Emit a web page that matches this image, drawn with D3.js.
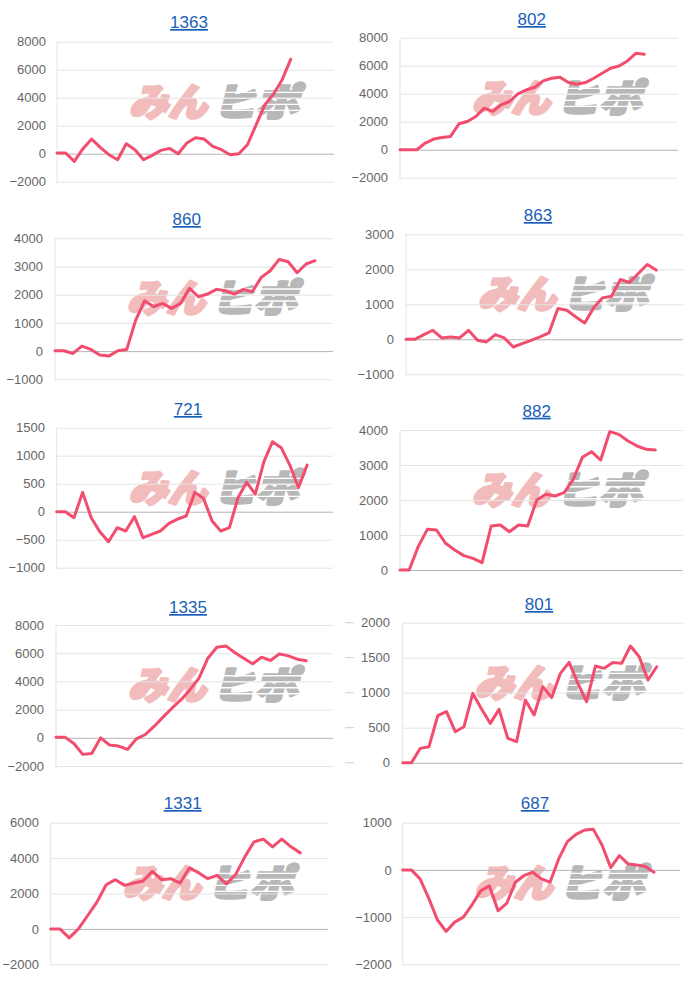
<!DOCTYPE html>
<html><head><meta charset="utf-8">
<script src="https://cdn.jsdelivr.net/npm/d3@7"></script>
<style>
html,body{margin:0;padding:0;background:#fff;}
svg{display:block;}
</style></head>
<body>
<svg id="c" width="700" height="982"></svg>
<script>
// ---- data ----
const titles = ["1363","802","860","863","721","882","1335","801","1331","687"];
const slotCounts = [33,34,32,32,33,32,32,33,31,33];

const s1363 = [50,50,-546,356,1045,451,-71,-427,712,285,-427,-119,237,380,0,760,1140,1045,522,285,-71,0,641,2065,3490,4250,5270,6742];
const s802  = [0,0,0,475,760,878,950,1852,2018,2374,2968,2730,3205,3442,3988,4273,4463,4914,5104,5175,4795,4677,4795,5104,5460,5816,5982,6339,6885,6813];
const s860  = [12,12,-83,177,59,-142,-177,12,59,1100,1786,1573,1692,1514,1692,2224,1928,2023,2189,2141,2023,2189,2106,2614,2851,3253,3170,2780,3088,3206];
const s863  = [0,0,134,258,38,67,38,258,-29,-76,134,38,-220,-124,-29,67,181,879,831,640,468,898,1184,1232,1709,1624,1881,2139,1977];
const s721  = [0,0,-107,345,-107,-357,-536,-286,-345,-89,-464,-405,-345,-208,-131,-77,345,238,-167,-345,-286,250,524,315,893,1250,1143,833,429,833];
const s882  = [0,0,667,1162,1143,762,571,410,333,210,1257,1286,1095,1286,1257,2000,2162,2114,2210,2590,3219,3381,3143,3952,3876,3686,3543,3448,3429];
const s1335 = [47,47,-400,-1176,-1106,0,-518,-588,-824,-71,235,824,1482,2118,2706,3412,4235,5647,6424,6518,6047,5647,5247,5718,5482,5953,5812,5576,5459];
const s801  = [0,0,205,229,671,729,443,514,990,767,562,762,348,300,895,681,1086,929,1276,1433,1133,871,1381,1348,1433,1419,1667,1514,1181,1371];
const s1331 = [0,0,-511,0,757,1514,2497,2781,2460,2592,2706,3254,2781,2838,2592,3443,3179,2838,3027,2535,3065,4068,4919,5070,4635,5070,4635,4295];
const s687  = [0,0,-190,-599,-1056,-1303,-1106,-1000,-739,-444,-338,-866,-711,-261,-120,-49,-190,-261,232,599,754,845,859,528,49,303,127,106,70,-49];

const t1363 = [-2000,0,2000,4000,6000,8000];
const t802  = [-2000,0,2000,4000,6000,8000];
const t860  = [-1000,0,1000,2000,3000,4000];
const t863  = [-1000,0,1000,2000,3000];
const t721  = [-1000,-500,0,500,1000,1500];
const t882  = [0,1000,2000,3000,4000];
const t1335 = [-2000,0,2000,4000,6000,8000];
const t801  = [0,500,1000,1500,2000];
const t1331 = [-2000,0,2000,4000,6000];
const t687  = [-2000,-1000,0,1000];

const seriesList = [s1363,s802,s860,s863,s721,s882,s1335,s801,s1331,s687];
const tickList = [t1363,t802,t860,t863,t721,t882,t1335,t801,t1331,t687];

// ---- layout (positions only) ----
const layout = [
  {x0:57,   x1:334, yTop:41.7,  yBot:181.7, tx:189,   ty:22,    lx:46},
  {x0:400,  x1:678, yTop:37.7,  yBot:177.7, tx:531.7, ty:19,    lx:388},
  {x0:55,   x1:333, yTop:238.3, yBot:379.3, tx:186.7, ty:219,   lx:43},
  {x0:406,  x1:683, yTop:234.3, yBot:374.3, tx:538,   ty:215,   lx:394},
  {x0:56.7, x1:333, yTop:427.7, yBot:567.7, tx:188,   ty:409,   lx:45},
  {x0:400,  x1:682.7,yTop:430,  yBot:570,   tx:536.7, ty:410.7, lx:388},
  {x0:56,   x1:333, yTop:625,   yBot:766,   tx:188,   ty:607,   lx:44},
  {x0:402.7,x1:683, yTop:622.7, yBot:762.7, tx:539,   ty:604,   lx:390, stub:[345,354]},
  {x0:50.7, x1:328, yTop:822.7, yBot:964.3, tx:182.7, ty:803,   lx:39},
  {x0:402.7,x1:680, yTop:822.7, yBot:964.3, tx:535,   ty:803,   lx:391.7}
];

const svg = d3.select("#c");
const FONT = "'Liberation Sans', Arial, Helvetica, sans-serif";
const LINE = "#f24d6e";

seriesList.forEach((vals, i) => {
  const L = layout[i];
  const ticks = tickList[i];
  const labels = d3.range(slotCounts[i]).map(d => "d" + d);
  const x = d3.scalePoint().domain(labels).range([L.x0, L.x1]);
  const y = d3.scaleLinear().domain([d3.min(ticks), d3.max(ticks)]).range([L.yBot, L.yTop]);
  const g = svg.append("g");

  // watermark
  const wm = g.append("g")
    .attr("transform", `translate(${L.x0 + 64},${L.yTop + 45 + 29}) skewX(-14)`);
  wm.append("text").attr("x", 8).attr("y", 0)
    .attr("font-family", "'Noto Sans CJK JP', sans-serif").attr("font-weight", 900)
    .attr("font-size", 38).attr("fill", "#f2bcbc")
    .attr("stroke", "#f2bcbc").attr("stroke-width", 3).attr("stroke-linejoin", "round")
    .attr("textLength", 78).attr("lengthAdjust", "spacingAndGlyphs")
    .text("みん");
  wm.append("text").attr("x", 92).attr("y", 0)
    .attr("font-family", "'Noto Sans CJK JP', sans-serif").attr("font-weight", 900)
    .attr("font-size", 38).attr("fill", "#b8b8b8")
    .attr("stroke", "#b8b8b8").attr("stroke-width", 3).attr("stroke-linejoin", "round")
    .attr("textLength", 86).attr("lengthAdjust", "spacingAndGlyphs")
    .text("ヒポ");
  [-24, -18, -12, -6].forEach((dy, k) => {
    wm.append("rect").attr("x", 86 + k * 2).attr("y", dy).attr("width", 96).attr("height", 1.4).attr("fill", "#fff");
  });

  // gridlines
  const yAxis = d3.axisLeft(y).tickValues(ticks).tickSize(-(L.x1 - L.x0)).tickFormat(d3.format("d")).tickPadding(0);
  const ag = g.append("g").attr("transform", `translate(${L.x0},0)`).call(yAxis);
  ag.select(".domain").remove();
  ag.selectAll(".tick line")
    .attr("stroke", d => d === 0 ? "#b4b4b4" : "#e4e4e4")
    .attr("stroke-width", 1);
  ag.selectAll(".tick text")
    .attr("x", L.lx - L.x0)
    .attr("font-family", FONT).attr("font-size", 13).attr("fill", "#666")
    .attr("text-anchor", "end");

  // left axis line
  g.append("line").attr("x1", L.x0).attr("x2", L.x0)
    .attr("y1", L.yTop).attr("y2", L.yBot + 2)
    .attr("stroke", "#e4e4e4").attr("stroke-width", 1);

  if (L.stub) {
    ticks.forEach(t => {
      g.append("line").attr("x1", L.stub[0]).attr("x2", L.stub[1])
        .attr("y1", y(t)).attr("y2", y(t)).attr("stroke", "#d0d0d0");
    });
  }

  // line
  const line = d3.line().x((d, j) => x(labels[j])).y(d => y(d));
  g.append("path").datum(vals).attr("d", line)
    .attr("fill", "none").attr("stroke", LINE).attr("stroke-width", 3)
    .attr("stroke-linejoin", "round").attr("stroke-linecap", "round");

  // title
  g.append("text").attr("x", L.tx).attr("y", L.ty + 6)
    .attr("text-anchor", "middle")
    .attr("font-family", FONT).attr("font-size", 17)
    .attr("fill", "#1a5fb8")
    .style("text-decoration", "underline")
    .text(titles[i]);
});
</script>
</body></html>
